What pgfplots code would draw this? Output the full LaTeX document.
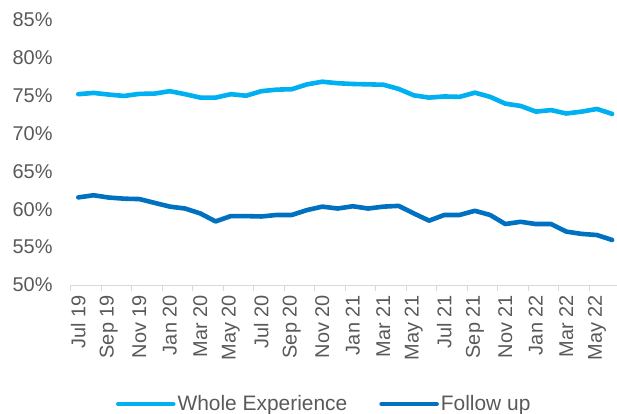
\documentclass[border=0pt]{standalone}
\usepackage{fontspec}
\setmainfont{Liberation Sans}
\usepackage{pgfplots}
\pgfplotsset{compat=1.18}
\definecolor{wecol}{HTML}{00B0F0}
\definecolor{fucol}{HTML}{0070C0}
\definecolor{txtcol}{HTML}{595959}
\definecolor{axcol}{HTML}{D9D9D9}
\newcommand{\chartfont}{\fontsize{20}{24}\selectfont}
\newcommand{\legfont}{\fontsize{21}{25}\selectfont}

\begin{document}
\begin{tikzpicture}
\begin{axis}[
  at={(70.7bp,129bp)}, anchor=south west,
  scale only axis, width=546.3bp, height=265bp,
  xmin=-0.5, xmax=35.32, ymin=50, ymax=85,
  axis x line*=bottom, axis y line*=left,
  x axis line style={draw=axcol, line width=1bp},
  y axis line style={draw=none},
  xtick={0,2,...,34},
  xticklabels={Jul 19,Sep 19,Nov 19,Jan 20,Mar 20,May 20,Jul 20,Sep 20,Nov 20,Jan 21,Mar 21,May 21,Jul 21,Sep 21,Nov 21,Jan 22,Mar 22,May 22},
  minor xtick={-0.5,1.5,...,33.5},
  major tick length=0pt, minor tick length=5.7bp, tick align=outside,
  minor x tick style={draw=axcol, line width=1bp},
  major x tick style={draw=none},
  ytick={50,55,...,85},
  yticklabels={50\%,55\%,60\%,65\%,70\%,75\%,80\%,85\%},
  ytick style={draw=none},
  tick label style={font=\chartfont, text=txtcol},
  xticklabel style={rotate=90, anchor=east, inner sep=0pt},
  xticklabel shift=10bp,
  yticklabel style={anchor=east, inner sep=0pt},
  yticklabel shift=18bp,
  legend columns=2,
  legend style={at={(0.4640,-0.449)}, anchor=center, draw=none, fill=none,
    font=\legfont, text=txtcol, inner sep=0pt,
    /tikz/every even column/.append style={column sep=30bp}},
  legend image code/.code={\draw[#1, line cap=round] (0bp,0bp) -- (55bp,0bp);},
  every axis plot/.append style={line width=4.6bp, line join=round, line cap=round, no marks},
]
\addplot[color=wecol] coordinates {
 (0,75.2) (1,75.37) (2,75.15) (3,74.97) (4,75.24) (5,75.28) (6,75.6) (7,75.2)
 (8,74.75) (9,74.75) (10,75.2) (11,75.0) (12,75.6) (13,75.8) (14,75.86) (15,76.5)
 (16,76.85) (17,76.65) (18,76.55) (19,76.5) (20,76.45) (21,75.9) (22,75.05) (23,74.75)
 (24,74.9) (25,74.85) (26,75.4) (27,74.85) (28,73.95) (29,73.65) (30,72.9) (31,73.1)
 (32,72.65) (33,72.9) (34,73.25) (35,72.6)};
\addlegendentry{Whole Experience}
\addplot[color=fucol] coordinates {
 (0,61.57) (1,61.85) (2,61.55) (3,61.4) (4,61.35) (5,60.85) (6,60.35) (7,60.1)
 (8,59.45) (9,58.4) (10,59.1) (11,59.1) (12,59.05) (13,59.25) (14,59.25) (15,59.9)
 (16,60.35) (17,60.1) (18,60.4) (19,60.1) (20,60.35) (21,60.45) (22,59.45) (23,58.5)
 (24,59.25) (25,59.25) (26,59.8) (27,59.25) (28,58.05) (29,58.35) (30,58.05) (31,58.05)
 (32,57.05) (33,56.75) (34,56.6) (35,55.95)};
\addlegendentry{Follow up}
\end{axis}
\pgfresetboundingbox
\path (0bp,0bp) rectangle (617bp,414bp);
\end{tikzpicture}
\end{document}
